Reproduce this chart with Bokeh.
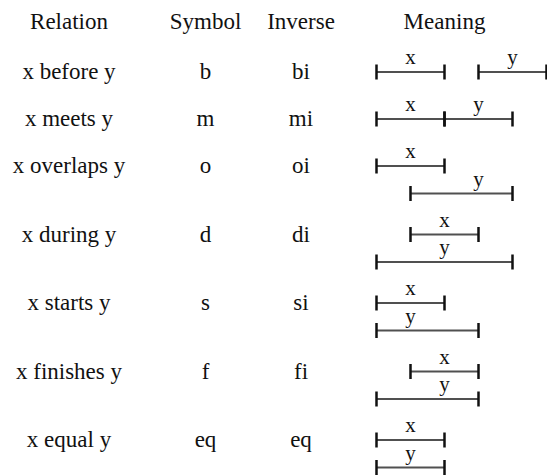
from bokeh.plotting import figure
from bokeh.models import Range1d
from bokeh.core.properties import value
from bokeh.embed import file_html
from bokeh.resources import INLINE

# ---- data ----
headers = ["Relation", "Symbol", "Inverse", "Meaning"]
relations = ["x before y", "x meets y", "x overlaps y", "x during y",
             "x starts y", "x finishes y", "x equal y"]
symbols = ["b", "m", "o", "d", "s", "f", "eq"]
inverses = ["bi", "mi", "oi", "di", "si", "fi", "eq"]
# interval endpoints in time units
x_start = [0, 0, 0, 1, 0, 1, 0]
x_end = [2, 2, 2, 3, 2, 3, 2]
y_start = [3, 2, 1, 0, 0, 0, 0]
y_end = [5, 4, 4, 4, 3, 3, 2]
# where the "x" / "y" names sit along the time axis
x_label_at = [1, 1, 1, 2, 1, 2, 1]
y_label_at = [4, 3, 3, 2, 1, 2, 1]

# ---- layout (screen-like coordinates) ----
COL_X = [68.5, 205, 300.5, 444]
MEAN_X0 = 376.0
UNIT = 34.0
HEADER_MID = 21.0
ROW0 = 71.5
GAP_SINGLE = 47.0
GAP_DOUBLE = 68.5
SUB = 27.5
TICK_H = 7.5
FONT = value("Liberation Serif")

n = len(relations)
two_line = [ys < xe for ys, xe in zip(y_start, x_end)]
row_y = [ROW0]
for i in range(n - 1):
    row_y.append(row_y[-1] + (GAP_DOUBLE if two_line[i] else GAP_SINGLE))
yline_y = [r + (SUB if t else 0) for r, t in zip(row_y, two_line)]

p = figure(width=547, height=475, output_backend="svg", toolbar_location=None,
           x_range=Range1d(0, 547), y_range=Range1d(475, 0),
           min_border=0, outline_line_color=None, background_fill_color="white")
p.axis.visible = False
p.grid.visible = False

# headers
p.text(x=COL_X, y=[HEADER_MID] * 4, text=headers, text_font=FONT,
       text_font_size="23px", text_align="center", text_baseline="middle",
       text_color="#111111")

# table columns
tm = [r - 0.5 for r in row_y]
for col, labels in zip(COL_X[:3], [relations, symbols, inverses]):
    p.text(x=[col] * n, y=tm, text=labels, text_font=FONT, text_font_size="23px",
           text_align="center", text_baseline="middle", text_color="#111111")

# intervals
def px(u):
    return MEAN_X0 + UNIT * u

xs0 = [px(v) for v in x_start]
xs1 = [px(v) for v in x_end]
ys0 = [px(v) for v in y_start]
ys1 = [px(v) for v in y_end]

seg_x0 = xs0 + ys0
seg_x1 = xs1 + ys1
seg_y = row_y + yline_y
p.segment(x0=seg_x0, y0=seg_y, x1=seg_x1, y1=seg_y, line_color="#505050",
          line_width=2)

tick_x = seg_x0 + seg_x1
tick_y = seg_y + seg_y
p.segment(x0=tick_x, y0=[v - TICK_H for v in tick_y], x1=tick_x,
          y1=[v + TICK_H for v in tick_y], line_color="#111111", line_width=2.5)

lab_x = [px(v) for v in x_label_at + y_label_at]
lab_y = [v - 15 for v in seg_y]
lab_t = ["x"] * n + ["y"] * n
p.text(x=lab_x, y=lab_y, text=lab_t, text_font=FONT, text_font_size="21px",
       text_align="center", text_baseline="middle", text_color="#111111")

open("out.html", "w").write(file_html(p, INLINE))
